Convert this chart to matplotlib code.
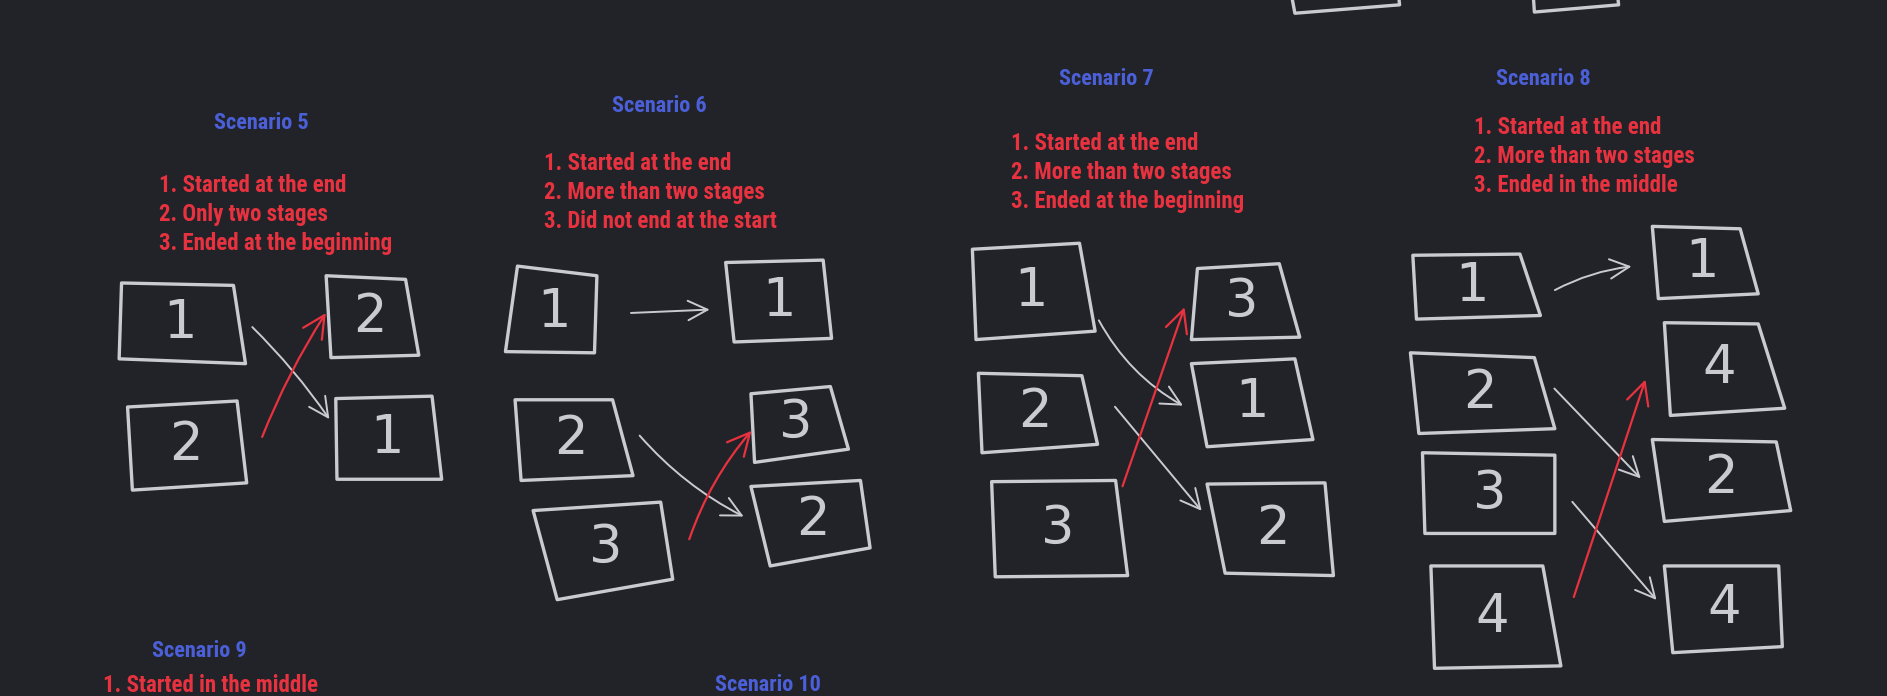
import matplotlib
matplotlib.use("Agg")
import matplotlib.pyplot as plt
from matplotlib.patches import Polygon, FancyArrowPatch
from matplotlib import font_manager

# colours of the whiteboard
BG = "#212328"
CHALK = "#c9cbd0"
RED = "#e8323f"
BLUE = "#4b60d8"

# ---------- text of the sketch
titles = ["Scenario 5", "Scenario 6", "Scenario 7", "Scenario 8", "Scenario 9", "Scenario 10"]
title_xy = [(217, 102), (548, 88), (919, 66), (1282, 66), (166, 541), (638, 569)]

notes_5 = ["1. Started at the end", "2. Only two stages", "3. Ended at the beginning"]
notes_6 = ["1. Started at the end", "2. More than two stages", "3. Did not end at the start"]
notes_7 = ["1. Started at the end", "2. More than two stages", "3. Ended at the beginning"]
notes_8 = ["1. Started at the end", "2. More than two stages", "3. Ended in the middle"]
notes_9 = ["1. Started in the middle"]
notes = [notes_5, notes_6, notes_7, notes_8, notes_9]
notes_xy = [(132, 154), (452, 136), (840, 119), (1225, 106), (86, 569)]

# ---------- boxes: (label, corners) in sketch pixels
boxes_5 = [("1", [(101, 235), (194, 237), (204, 302), (99, 298)]),
           ("2", [(106, 338), (197, 333), (205, 401), (110, 407)]),
           ("2", [(271, 229), (337, 232), (348, 295), (275, 297)]),
           ("1", [(279, 331), (359, 329), (367, 398), (280, 398)])]
boxes_6 = [("1", [(430, 221), (496, 229), (494, 293), (420, 292)]),
           ("1", [(603, 218), (684, 216), (691, 281), (610, 284)]),
           ("2", [(428, 332), (509, 332), (526, 395), (433, 399)]),
           ("3", [(443, 424), (549, 417), (559, 481), (463, 498)]),
           ("3", [(624, 327), (690, 321), (705, 373), (627, 384)]),
           ("2", [(624, 404), (715, 399), (723, 455), (640, 470)])]
boxes_7 = [("1", [(808, 207), (897, 202), (910, 275), (811, 282)]),
           ("2", [(813, 310), (899, 312), (912, 369), (816, 376)]),
           ("3", [(824, 400), (927, 399), (937, 478), (827, 479)]),
           ("3", [(995, 223), (1063, 219), (1080, 280), (990, 282)]),
           ("1", [(990, 302), (1076, 298), (1091, 365), (1003, 371)]),
           ("2", [(1003, 402), (1101, 401), (1108, 478), (1018, 476)])]
boxes_8 = [("1", [(1174, 212), (1263, 211), (1280, 262), (1177, 265)]),
           ("2", [(1172, 293), (1275, 297), (1292, 356), (1179, 360)]),
           ("3", [(1182, 376), (1292, 378), (1292, 443), (1184, 443)]),
           ("4", [(1189, 470), (1282, 470), (1297, 553), (1192, 555)]),
           ("1", [(1373, 188), (1446, 190), (1461, 244), (1378, 248)]),
           ("4", [(1383, 268), (1461, 269), (1483, 339), (1388, 345)]),
           ("2", [(1373, 365), (1476, 367), (1488, 424), (1383, 433)]),
           ("4", [(1383, 470), (1478, 470), (1481, 537), (1390, 542)])]
# bits of boxes cut off at the top edge
boxes_top = [("", [(1073, -5), (1076, 11), (1163, 4), (1162, -5)]),
             ("", [(1274, -5), (1275, 10), (1345, 4), (1344, -5)])]
all_boxes = boxes_5 + boxes_6 + boxes_7 + boxes_8 + boxes_top

# ---------- arrows: (start, end, bend)
grey_arrows = [((208, 270), (275, 350), -0.05),
               ((522, 260), (592, 257), 0.0),
               ((530, 360), (620, 430), 0.1),
               ((912, 264), (985, 338), 0.15),
               ((925, 336), (1000, 426), 0.0),
               ((1290, 242), (1358, 221), -0.1),
               ((1290, 321), (1365, 399), 0.0),
               ((1305, 415), (1378, 500), 0.0)]
red_arrows = [((217, 365), (272, 258), -0.05),
              ((572, 450), (626, 356), -0.1),
              ((932, 406), (985, 253), 0.0),
              ((1307, 498), (1368, 313), 0.0)]

# narrow lettering if some condensed face is installed
names = {f.name for f in font_manager.fontManager.ttflist}
narrow = [n for n in ["Liberation Sans Narrow", "DejaVu Sans Condensed", "Roboto Condensed",
                      "Open Sans Condensed"] if n in names]
font = narrow[:1] + ["DejaVu Sans"]

fig = plt.figure(figsize=(18.87, 6.96), dpi=100, facecolor=BG)
ax = fig.add_axes([0, 0, 1, 1])
ax.set_facecolor(BG)
ax.set_xlim(0, 1568)
ax.set_ylim(578, 0)
ax.axis("off")

for t, (x, y) in zip(titles, title_xy):
    ax.text(x, y, t, color=BLUE, fontsize=16, fontweight="bold", family=font,
            fontstretch="condensed", ha="center", va="center")

for lines, (x, y) in zip(notes, notes_xy):
    for i, line in enumerate(lines):
        ax.text(x, y + i * 24, line, color=RED, fontsize=16.5, fontweight="bold",
                family=font, fontstretch="condensed", ha="left", va="center")

for label, pts in all_boxes:
    ax.add_patch(Polygon(pts, closed=True, fill=False, edgecolor=CHALK,
                         linewidth=2.4, joinstyle="round"))
    if label:
        cx = sum(p[0] for p in pts) / 4
        cy = sum(p[1] for p in pts) / 4
        ax.text(cx, cy, label, color=CHALK, fontsize=38, family="DejaVu Sans",
                ha="center", va="center")

for (x0, y0), (x1, y1), rad in grey_arrows:
    ax.add_patch(FancyArrowPatch((x0, y0), (x1, y1), connectionstyle=f"arc3,rad={rad}",
                                 arrowstyle="->,head_length=0.7,head_width=0.35",
                                 mutation_scale=20, color=CHALK, linewidth=1.4))

for (x0, y0), (x1, y1), rad in red_arrows:
    ax.add_patch(FancyArrowPatch((x0, y0), (x1, y1), connectionstyle=f"arc3,rad={rad}",
                                 arrowstyle="->,head_length=0.8,head_width=0.4",
                                 mutation_scale=20, color=RED, linewidth=1.6))

fig.savefig("out.png", dpi=100, facecolor=BG)
